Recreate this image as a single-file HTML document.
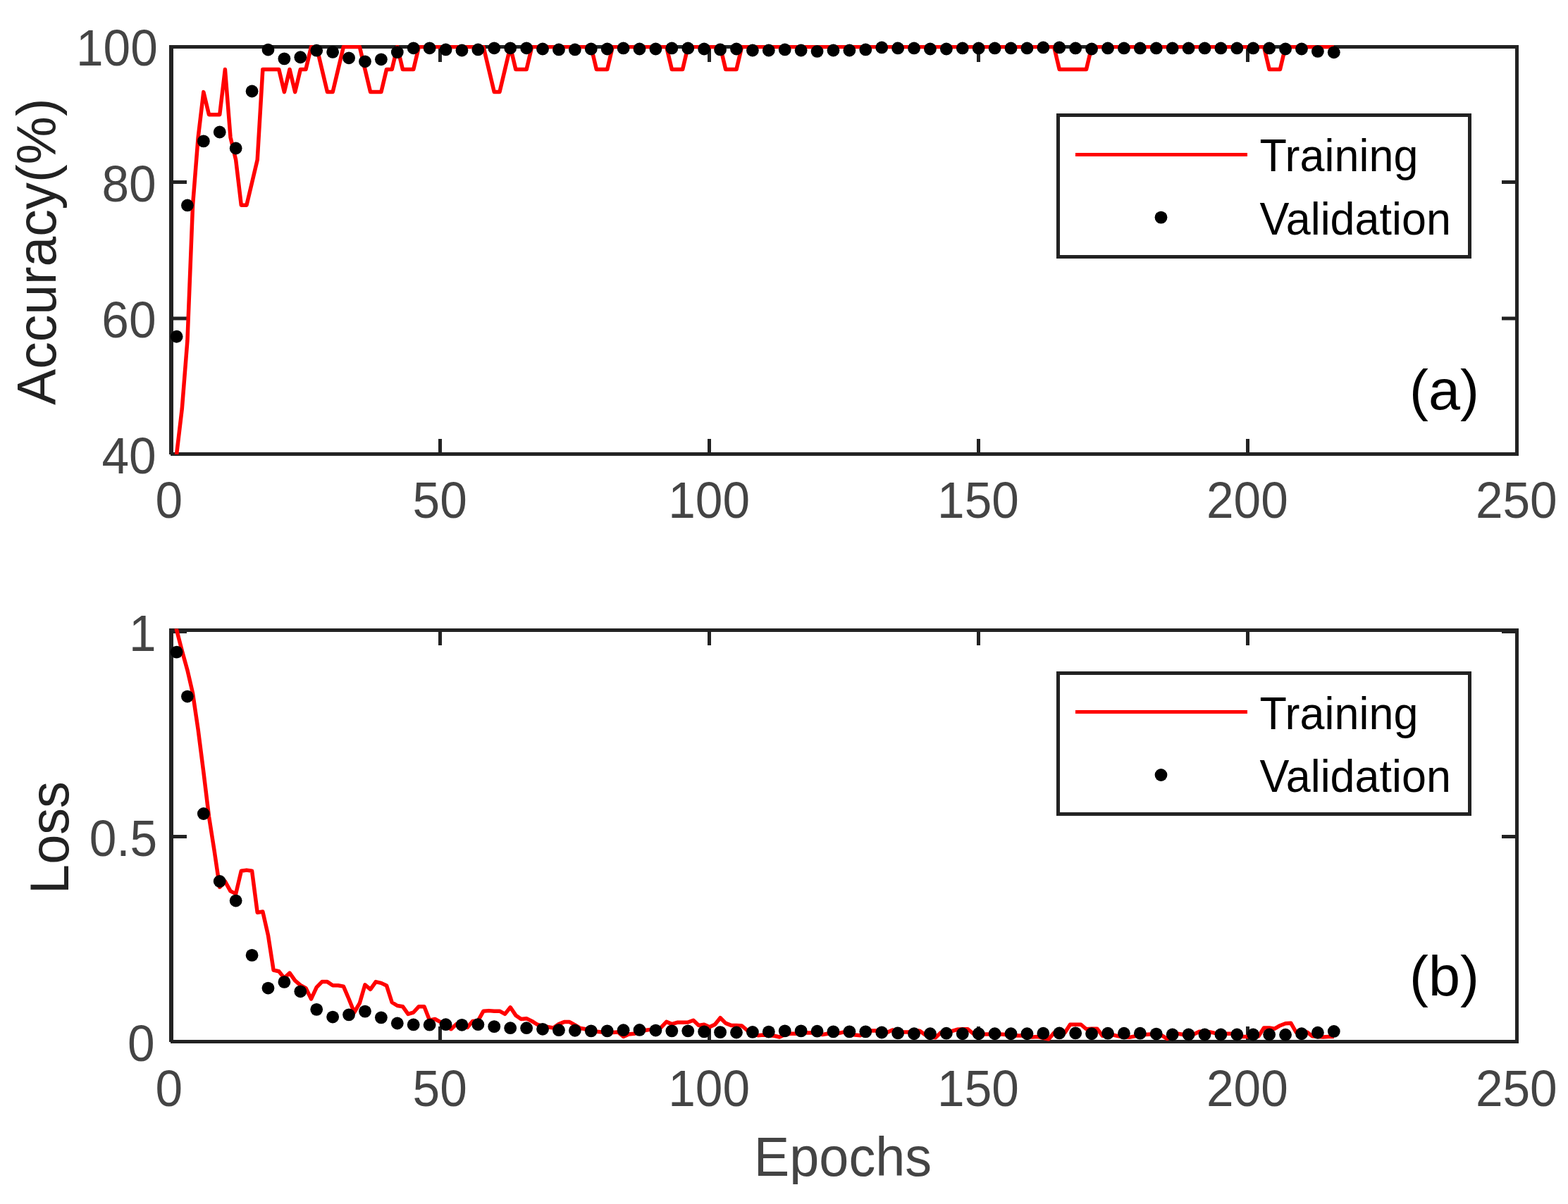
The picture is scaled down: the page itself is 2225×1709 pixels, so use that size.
<!DOCTYPE html>
<html lang="en">
<head>
<meta charset="utf-8">
<title>Training and validation accuracy / loss</title>
<style>
html,body{margin:0;padding:0;background:#fff;}
body{width:2225px;height:1709px;overflow:hidden;}
svg{display:block;}
</style>
</head>
<body>
<svg width="2225" height="1709" viewBox="0 0 2225 1709" role="img" aria-label="Training and validation accuracy and loss versus epochs" font-family="'Liberation Sans', sans-serif">
<rect width="2225" height="1709" fill="#fff"/>
<defs><clipPath id="ca"><rect x="240" y="64" width="1915" height="581"/></clipPath><clipPath id="cb"><rect x="240" y="892.6" width="1915" height="588.4"/></clipPath><clipPath id="cx"><rect x="1000" y="1590" width="400" height="91"/></clipPath></defs>
<g fill="#222222" shape-rendering="crispEdges"><rect x="622.4" y="622.9" width="5" height="21.5"/><rect x="622.4" y="66.4" width="5" height="21.5"/><rect x="1004.3" y="622.9" width="5" height="21.5"/><rect x="1004.3" y="66.4" width="5" height="21.5"/><rect x="1386.2" y="622.9" width="5" height="21.5"/><rect x="1386.2" y="66.4" width="5" height="21.5"/><rect x="1768.1" y="622.9" width="5" height="21.5"/><rect x="1768.1" y="66.4" width="5" height="21.5"/><rect x="243" y="449.5" width="22" height="5" shape-rendering="auto"/><rect x="2131" y="449.5" width="22" height="5" shape-rendering="auto"/><rect x="243" y="256" width="22" height="5" shape-rendering="auto"/><rect x="2131" y="256" width="22" height="5" shape-rendering="auto"/><rect x="240" y="64" width="1915" height="5"/><rect x="242" y="642" width="1913" height="5"/><rect x="240" y="64" width="6" height="581"/><rect x="2150" y="64" width="5" height="583"/></g>
<polyline clip-path="url(#ca)" points="250.28,647.4 250.64,644.4 258.28,580.18 265.91,483.84 273.55,291.18 281.19,194.84 288.83,130.62 296.47,162.73 304.1,162.73 311.74,162.73 319.38,98.51 327.02,194.84 334.66,226.96 342.29,291.18 349.93,291.18 357.57,259.07 365.21,226.96 372.85,98.51 380.48,98.51 388.12,98.51 395.76,98.51 403.4,130.62 411.04,98.51 418.67,130.62 426.31,98.51 433.95,98.51 441.59,66.4 449.23,66.4 456.86,98.51 464.5,130.62 472.14,130.62 479.78,98.51 487.42,66.4 495.05,66.4 502.69,66.4 510.33,66.4 517.97,98.51 525.61,130.62 533.24,130.62 540.88,130.62 548.52,98.51 556.16,98.51 563.8,66.4 571.43,98.51 579.07,98.51 586.71,98.51 594.35,66.4 601.99,66.4 609.62,66.4 617.26,66.4 624.9,66.4 632.54,66.4 640.18,66.4 647.81,66.4 655.45,66.4 663.09,66.4 670.73,66.4 678.37,66.4 686,66.4 693.64,98.51 701.28,130.62 708.92,130.62 716.56,98.51 724.19,66.4 731.83,98.51 739.47,98.51 747.11,98.51 754.75,66.4 762.38,66.4 770.02,66.4 777.66,66.4 785.3,66.4 792.94,66.4 800.57,66.4 808.21,66.4 815.85,66.4 823.49,66.4 831.13,66.4 838.76,66.4 846.4,98.51 854.04,98.51 861.68,98.51 869.32,66.4 876.95,66.4 884.59,66.4 892.23,66.4 899.87,66.4 907.51,66.4 915.14,66.4 922.78,66.4 930.42,66.4 938.06,66.4 945.7,66.4 953.33,98.51 960.97,98.51 968.61,98.51 976.25,66.4 983.89,66.4 991.52,66.4 999.16,66.4 1006.8,66.4 1014.44,66.4 1022.08,66.4 1029.71,98.51 1037.35,98.51 1044.99,98.51 1052.63,66.4 1060.27,66.4 1067.9,66.4 1075.54,66.4 1083.18,66.4 1090.82,66.4 1098.46,66.4 1106.09,66.4 1113.73,66.4 1121.37,66.4 1129.01,66.4 1136.65,66.4 1144.28,66.4 1151.92,66.4 1159.56,66.4 1167.2,66.4 1174.84,66.4 1182.47,66.4 1190.11,66.4 1197.75,66.4 1205.39,66.4 1213.03,66.4 1220.66,66.4 1228.3,66.4 1235.94,66.4 1243.58,66.4 1251.22,66.4 1258.85,66.4 1266.49,66.4 1274.13,66.4 1281.77,66.4 1289.41,66.4 1297.04,66.4 1304.68,66.4 1312.32,66.4 1319.96,66.4 1327.6,66.4 1335.23,66.4 1342.87,66.4 1350.51,66.4 1358.15,66.4 1365.79,66.4 1373.42,66.4 1381.06,66.4 1388.7,66.4 1396.34,66.4 1403.98,66.4 1411.61,66.4 1419.25,66.4 1426.89,66.4 1434.53,66.4 1442.17,66.4 1449.8,66.4 1457.44,66.4 1465.08,66.4 1472.72,66.4 1480.36,66.4 1487.99,66.4 1495.63,66.4 1503.27,98.51 1510.91,98.51 1518.55,98.51 1526.18,98.51 1533.82,98.51 1541.46,98.51 1549.1,66.4 1556.74,66.4 1564.37,66.4 1572.01,66.4 1579.65,66.4 1587.29,66.4 1594.93,66.4 1602.56,66.4 1610.2,66.4 1617.84,66.4 1625.48,66.4 1633.12,66.4 1640.75,66.4 1648.39,66.4 1656.03,66.4 1663.67,66.4 1671.31,66.4 1678.94,66.4 1686.58,66.4 1694.22,66.4 1701.86,66.4 1709.5,66.4 1717.13,66.4 1724.77,66.4 1732.41,66.4 1740.05,66.4 1747.69,66.4 1755.32,66.4 1762.96,66.4 1770.6,66.4 1778.24,66.4 1785.88,66.4 1793.51,66.4 1801.15,98.51 1808.79,98.51 1816.43,98.51 1824.07,66.4 1831.7,66.4 1839.34,66.4 1846.98,66.4 1854.62,66.4 1862.26,66.4 1869.89,66.4 1877.53,66.4 1885.17,66.4 1892.81,66.4" fill="none" stroke="#ff0000" stroke-width="5.5" stroke-linejoin="round" stroke-linecap="butt"/>
<g fill="#000"><circle cx="250.64" cy="477.74" r="8.9"/><circle cx="265.91" cy="291.43" r="8.9"/><circle cx="288.83" cy="200.4" r="8.9"/><circle cx="311.74" cy="187.49" r="8.9"/><circle cx="334.66" cy="210.51" r="8.9"/><circle cx="357.57" cy="129.5" r="8.9"/><circle cx="380.48" cy="70.54" r="8.9"/><circle cx="403.4" cy="83.35" r="8.9"/><circle cx="426.31" cy="81.24" r="8.9"/><circle cx="449.23" cy="71.7" r="8.9"/><circle cx="472.14" cy="73.91" r="8.9"/><circle cx="495.05" cy="82.3" r="8.9"/><circle cx="517.97" cy="87.3" r="8.9"/><circle cx="540.88" cy="84.32" r="8.9"/><circle cx="563.8" cy="74.11" r="8.9"/><circle cx="586.71" cy="68.33" r="8.9"/><circle cx="609.62" cy="68.33" r="8.9"/><circle cx="632.54" cy="70.45" r="8.9"/><circle cx="655.45" cy="71.51" r="8.9"/><circle cx="678.37" cy="70.45" r="8.9"/><circle cx="701.28" cy="68.33" r="8.9"/><circle cx="724.19" cy="68.33" r="8.9"/><circle cx="747.11" cy="68.33" r="8.9"/><circle cx="770.02" cy="69.48" r="8.9"/><circle cx="792.94" cy="70.45" r="8.9"/><circle cx="815.85" cy="70.45" r="8.9"/><circle cx="838.76" cy="69.48" r="8.9"/><circle cx="861.68" cy="69.48" r="8.9"/><circle cx="884.59" cy="68.42" r="8.9"/><circle cx="907.51" cy="69.48" r="8.9"/><circle cx="930.42" cy="69.48" r="8.9"/><circle cx="953.33" cy="68.42" r="8.9"/><circle cx="976.25" cy="68.42" r="8.9"/><circle cx="999.16" cy="69.48" r="8.9"/><circle cx="1022.08" cy="70.45" r="8.9"/><circle cx="1044.99" cy="69.48" r="8.9"/><circle cx="1067.9" cy="71.51" r="8.9"/><circle cx="1090.82" cy="71.51" r="8.9"/><circle cx="1113.73" cy="70.45" r="8.9"/><circle cx="1136.65" cy="71.51" r="8.9"/><circle cx="1159.56" cy="72.95" r="8.9"/><circle cx="1182.47" cy="71.51" r="8.9"/><circle cx="1205.39" cy="71.51" r="8.9"/><circle cx="1228.3" cy="70.45" r="8.9"/><circle cx="1251.22" cy="67.46" r="8.9"/><circle cx="1274.13" cy="68.42" r="8.9"/><circle cx="1297.04" cy="68.42" r="8.9"/><circle cx="1319.96" cy="69.48" r="8.9"/><circle cx="1342.87" cy="69.48" r="8.9"/><circle cx="1365.79" cy="68.42" r="8.9"/><circle cx="1388.7" cy="68.42" r="8.9"/><circle cx="1411.61" cy="68.42" r="8.9"/><circle cx="1434.53" cy="68.42" r="8.9"/><circle cx="1457.44" cy="68.42" r="8.9"/><circle cx="1480.36" cy="67.46" r="8.9"/><circle cx="1503.27" cy="67.46" r="8.9"/><circle cx="1526.18" cy="68.42" r="8.9"/><circle cx="1549.1" cy="69.48" r="8.9"/><circle cx="1572.01" cy="68.42" r="8.9"/><circle cx="1594.93" cy="68.42" r="8.9"/><circle cx="1617.84" cy="68.42" r="8.9"/><circle cx="1640.75" cy="68.42" r="8.9"/><circle cx="1663.67" cy="68.42" r="8.9"/><circle cx="1686.58" cy="68.42" r="8.9"/><circle cx="1709.5" cy="68.42" r="8.9"/><circle cx="1732.41" cy="68.42" r="8.9"/><circle cx="1755.32" cy="68.42" r="8.9"/><circle cx="1778.24" cy="68.42" r="8.9"/><circle cx="1801.15" cy="68.42" r="8.9"/><circle cx="1824.07" cy="69.48" r="8.9"/><circle cx="1846.98" cy="69.48" r="8.9"/><circle cx="1869.89" cy="72.95" r="8.9"/><circle cx="1892.81" cy="74.3" r="8.9"/></g>
<g fill="#222222" shape-rendering="crispEdges"><rect x="622.4" y="1456.8" width="5" height="21.5"/><rect x="622.4" y="894.3" width="5" height="21.5"/><rect x="1004.3" y="1456.8" width="5" height="21.5"/><rect x="1004.3" y="894.3" width="5" height="21.5"/><rect x="1386.2" y="1456.8" width="5" height="21.5"/><rect x="1386.2" y="894.3" width="5" height="21.5"/><rect x="1768.1" y="1456.8" width="5" height="21.5"/><rect x="1768.1" y="894.3" width="5" height="21.5"/><rect x="243" y="1185" width="22" height="5" shape-rendering="auto"/><rect x="2131" y="1185" width="22" height="5" shape-rendering="auto"/><rect x="243" y="894" width="22" height="5" shape-rendering="auto"/><rect x="2131" y="894" width="22" height="5" shape-rendering="auto"/><rect x="240" y="892" width="1915" height="5"/><rect x="242" y="1476" width="1913" height="5"/><rect x="240" y="892" width="6" height="587"/><rect x="2150" y="892" width="5" height="589"/></g>
<polyline clip-path="url(#cb)" points="249.96,891.3 250.64,894.3 258.28,923.79 265.91,951.24 273.55,984.24 281.19,1036.21 288.83,1095.78 296.47,1158.85 304.1,1207.32 311.74,1259.3 319.38,1251.12 327.02,1264.85 334.66,1268.64 342.29,1236.29 349.93,1235.12 357.57,1236.29 365.21,1295.22 372.85,1294.05 380.48,1327.63 388.12,1376.98 395.76,1378.73 403.4,1388.36 411.04,1381.12 418.67,1391.87 426.31,1398.35 433.95,1402.56 441.59,1417.97 449.23,1401.33 456.86,1393.62 464.5,1393.62 472.14,1398.7 479.78,1398.7 487.42,1400.16 495.05,1417.97 502.69,1437.01 510.33,1423.93 517.97,1397.77 525.61,1404.31 533.24,1393.62 540.88,1395.37 548.52,1398.93 556.16,1422.76 563.8,1427.49 571.43,1428.66 579.07,1439.41 586.71,1437.01 594.35,1428.66 601.99,1428.66 609.62,1448.28 617.26,1446.47 624.9,1450.62 632.54,1456.58 640.18,1460.78 647.81,1453.6 655.45,1457.16 663.09,1458.39 670.73,1449.45 678.37,1448.87 686,1435.2 693.64,1434.62 701.28,1435.2 708.92,1435.2 716.56,1439.35 724.19,1429.83 731.83,1441.16 739.47,1446.47 747.11,1445.65 754.75,1449.45 762.38,1454.24 770.02,1456.58 777.66,1457.8 785.3,1458.97 792.94,1453.6 800.57,1450.62 808.21,1450.62 815.85,1454.82 823.49,1459.55 831.13,1460.78 838.76,1462.53 846.4,1464.34 854.04,1464.93 861.68,1464.93 869.32,1465.51 876.95,1464.93 884.59,1471.47 892.23,1467.9 899.87,1467.26 907.51,1464.87 915.14,1462.53 922.78,1461.36 930.42,1461.36 938.06,1458.39 945.7,1450.38 953.33,1453.6 960.97,1451.26 968.61,1451.26 976.25,1451.03 983.89,1448.28 991.52,1455.41 999.16,1454.24 1006.8,1457.8 1014.44,1454.24 1022.08,1444.72 1029.71,1452.43 1037.35,1455.41 1044.99,1455.41 1052.63,1455.99 1060.27,1462.53 1067.9,1467.2 1075.54,1469.66 1083.18,1469.07 1090.82,1469.66 1098.46,1470.24 1106.09,1472.05 1113.73,1468.49 1121.37,1467.26 1129.01,1467.26 1136.65,1466.09 1144.28,1466.09 1151.92,1466.09 1159.56,1467.79 1167.2,1468.49 1174.84,1467.26 1182.47,1467.26 1190.11,1466.62 1197.75,1464.87 1205.39,1467.26 1213.03,1469.07 1220.66,1469.66 1228.3,1466.09 1235.94,1463.12 1243.58,1463.12 1251.22,1464.93 1258.85,1465.51 1266.49,1461.95 1274.13,1463.7 1281.77,1464.93 1289.41,1464.93 1297.04,1462.53 1304.68,1463.12 1312.32,1468.49 1319.96,1472.05 1327.6,1472.64 1335.23,1465.51 1342.87,1464.93 1350.51,1463.7 1358.15,1461.36 1365.79,1460.78 1373.42,1460.78 1381.06,1467.26 1388.7,1467.26 1396.34,1467.9 1403.98,1467.9 1411.61,1467.9 1419.25,1467.9 1426.89,1468.49 1434.53,1469.66 1442.17,1469.89 1449.8,1469.89 1457.44,1472.05 1465.08,1472.05 1472.72,1471.47 1480.36,1473.22 1487.99,1475.03 1495.63,1466.09 1503.27,1466.09 1510.91,1466.09 1518.55,1454.24 1526.18,1454.24 1533.82,1454.24 1541.46,1460.78 1549.1,1460.2 1556.74,1460.2 1564.37,1470.24 1572.01,1469.66 1579.65,1469.07 1587.29,1470.88 1594.93,1472.05 1602.56,1472.34 1610.2,1470.88 1617.84,1469.66 1625.48,1468.49 1633.12,1467.9 1640.75,1468.96 1648.39,1469.66 1656.03,1474.45 1663.67,1471.29 1671.31,1467.26 1678.94,1468.49 1686.58,1468.37 1694.22,1467.9 1701.86,1464.34 1709.5,1464.58 1717.13,1464.93 1724.77,1466.68 1732.41,1467.2 1740.05,1467.26 1747.69,1467.26 1755.32,1469.54 1762.96,1471.47 1770.6,1471.47 1778.24,1471.29 1785.88,1470.88 1793.51,1458.97 1801.15,1458.97 1808.79,1460.2 1816.43,1455.7 1824.07,1452.72 1831.7,1452.14 1839.34,1465.51 1846.98,1464.93 1854.62,1464.93 1862.26,1470.88 1869.89,1471.47 1877.53,1472.05 1885.17,1471.47 1892.81,1471.47" fill="none" stroke="#ff0000" stroke-width="5.5" stroke-linejoin="round" stroke-linecap="butt"/>
<g fill="#000"><circle cx="250.64" cy="925.6" r="8.9"/><circle cx="265.91" cy="988.56" r="8.9"/><circle cx="288.83" cy="1155" r="8.9"/><circle cx="311.74" cy="1251.01" r="8.9"/><circle cx="334.66" cy="1278.57" r="8.9"/><circle cx="357.57" cy="1355.89" r="8.9"/><circle cx="380.48" cy="1402.56" r="8.9"/><circle cx="403.4" cy="1393.91" r="8.9"/><circle cx="426.31" cy="1407.29" r="8.9"/><circle cx="449.23" cy="1432.86" r="8.9"/><circle cx="472.14" cy="1443.55" r="8.9"/><circle cx="495.05" cy="1440.34" r="8.9"/><circle cx="517.97" cy="1435.61" r="8.9"/><circle cx="540.88" cy="1444.37" r="8.9"/><circle cx="563.8" cy="1452.49" r="8.9"/><circle cx="586.71" cy="1454.47" r="8.9"/><circle cx="609.62" cy="1454.71" r="8.9"/><circle cx="632.54" cy="1454.18" r="8.9"/><circle cx="655.45" cy="1454.82" r="8.9"/><circle cx="678.37" cy="1454.18" r="8.9"/><circle cx="701.28" cy="1457.16" r="8.9"/><circle cx="724.19" cy="1459.2" r="8.9"/><circle cx="747.11" cy="1459.2" r="8.9"/><circle cx="770.02" cy="1460.78" r="8.9"/><circle cx="792.94" cy="1462.18" r="8.9"/><circle cx="815.85" cy="1462.77" r="8.9"/><circle cx="838.76" cy="1463.35" r="8.9"/><circle cx="861.68" cy="1463.35" r="8.9"/><circle cx="884.59" cy="1462.18" r="8.9"/><circle cx="907.51" cy="1461.95" r="8.9"/><circle cx="930.42" cy="1462.53" r="8.9"/><circle cx="953.33" cy="1463.35" r="8.9"/><circle cx="976.25" cy="1463.35" r="8.9"/><circle cx="999.16" cy="1464.34" r="8.9"/><circle cx="1022.08" cy="1465.16" r="8.9"/><circle cx="1044.99" cy="1465.51" r="8.9"/><circle cx="1067.9" cy="1464.93" r="8.9"/><circle cx="1090.82" cy="1464.58" r="8.9"/><circle cx="1113.73" cy="1463.35" r="8.9"/><circle cx="1136.65" cy="1463.35" r="8.9"/><circle cx="1159.56" cy="1463.7" r="8.9"/><circle cx="1182.47" cy="1464.34" r="8.9"/><circle cx="1205.39" cy="1464.34" r="8.9"/><circle cx="1228.3" cy="1464.34" r="8.9"/><circle cx="1251.22" cy="1465.51" r="8.9"/><circle cx="1274.13" cy="1466.44" r="8.9"/><circle cx="1297.04" cy="1467.26" r="8.9"/><circle cx="1319.96" cy="1467.26" r="8.9"/><circle cx="1342.87" cy="1466.68" r="8.9"/><circle cx="1365.79" cy="1467.26" r="8.9"/><circle cx="1388.7" cy="1467.26" r="8.9"/><circle cx="1411.61" cy="1467.26" r="8.9"/><circle cx="1434.53" cy="1467.26" r="8.9"/><circle cx="1457.44" cy="1467.26" r="8.9"/><circle cx="1480.36" cy="1466.68" r="8.9"/><circle cx="1503.27" cy="1466.44" r="8.9"/><circle cx="1526.18" cy="1466.44" r="8.9"/><circle cx="1549.1" cy="1467.26" r="8.9"/><circle cx="1572.01" cy="1466.68" r="8.9"/><circle cx="1594.93" cy="1466.68" r="8.9"/><circle cx="1617.84" cy="1466.68" r="8.9"/><circle cx="1640.75" cy="1467.55" r="8.9"/><circle cx="1663.67" cy="1468.49" r="8.9"/><circle cx="1686.58" cy="1468.49" r="8.9"/><circle cx="1709.5" cy="1468.49" r="8.9"/><circle cx="1732.41" cy="1468.49" r="8.9"/><circle cx="1755.32" cy="1468.49" r="8.9"/><circle cx="1778.24" cy="1468.49" r="8.9"/><circle cx="1801.15" cy="1468.49" r="8.9"/><circle cx="1824.07" cy="1468.72" r="8.9"/><circle cx="1846.98" cy="1467.26" r="8.9"/><circle cx="1869.89" cy="1465.74" r="8.9"/><circle cx="1892.81" cy="1463.93" r="8.9"/></g>
<text transform="translate(223.8,93.2) scale(0.96,1)" font-size="72.3" fill="#444444" text-anchor="end" >100</text>
<text transform="translate(221.7,286.2) scale(0.96,1)" font-size="72.3" fill="#444444" text-anchor="end" >80</text>
<text transform="translate(221.5,479.1) scale(0.96,1)" font-size="72.3" fill="#444444" text-anchor="end" >60</text>
<text transform="translate(221.7,672.2) scale(0.96,1)" font-size="72.3" fill="#444444" text-anchor="end" >40</text>
<text transform="translate(221.7,924) scale(0.96,1)" font-size="72.3" fill="#444444" text-anchor="end" >1</text>
<text transform="translate(223.2,1215.1) scale(0.96,1)" font-size="72.3" fill="#444444" text-anchor="end" >0.5</text>
<text transform="translate(219.6,1506) scale(0.96,1)" font-size="72.3" fill="#444444" text-anchor="end" >0</text>
<text transform="translate(239.9,735.2) scale(0.96,1)" font-size="72.3" fill="#444444" text-anchor="middle" >0</text>
<text transform="translate(239.9,1570.2) scale(0.96,1)" font-size="72.3" fill="#444444" text-anchor="middle" >0</text>
<text transform="translate(624.2,735.2) scale(0.96,1)" font-size="72.3" fill="#444444" text-anchor="middle" >50</text>
<text transform="translate(624.2,1570.2) scale(0.96,1)" font-size="72.3" fill="#444444" text-anchor="middle" >50</text>
<text transform="translate(1006.1,735.2) scale(0.96,1)" font-size="72.3" fill="#444444" text-anchor="middle" >100</text>
<text transform="translate(1006.1,1570.2) scale(0.96,1)" font-size="72.3" fill="#444444" text-anchor="middle" >100</text>
<text transform="translate(1388,735.2) scale(0.96,1)" font-size="72.3" fill="#444444" text-anchor="middle" >150</text>
<text transform="translate(1388,1570.2) scale(0.96,1)" font-size="72.3" fill="#444444" text-anchor="middle" >150</text>
<text transform="translate(1769.9,735.2) scale(0.96,1)" font-size="72.3" fill="#444444" text-anchor="middle" >200</text>
<text transform="translate(1769.9,1570.2) scale(0.96,1)" font-size="72.3" fill="#444444" text-anchor="middle" >200</text>
<text transform="translate(2151.8,735.2) scale(0.96,1)" font-size="72.3" fill="#444444" text-anchor="middle" >250</text>
<text transform="translate(2151.8,1570.2) scale(0.96,1)" font-size="72.3" fill="#444444" text-anchor="middle" >250</text>
<text transform="translate(79.3,357.2) rotate(-90) scale(0.998,1)" font-size="77" fill="#222222" text-anchor="middle">Accuracy(%)</text>
<text transform="translate(97.4,1189) rotate(-90) scale(0.983,1)" font-size="77" fill="#222222" text-anchor="middle">Loss</text>
<g clip-path="url(#cx)"><text transform="translate(1196,1668.6) scale(0.983,1)" font-size="77" fill="#444444" text-anchor="middle" >Epochs</text></g>
<g fill="#222222" shape-rendering="crispEdges"><rect x="1499" y="161" width="589" height="206"/><rect x="1504" y="166" width="579" height="196" fill="#fff"/></g><rect x="1526" y="217" width="244" height="5" fill="#ff0000" shape-rendering="crispEdges"/><circle cx="1647.5" cy="308.6" r="8.9" fill="#000"/><text transform="translate(1787.5,243.2) scale(0.983,1)" font-size="64" fill="#000" text-anchor="start" >Training</text><text transform="translate(1787.4,333.4) scale(0.983,1)" font-size="64" fill="#000" text-anchor="start" >Validation</text>
<g fill="#222222" shape-rendering="crispEdges"><rect x="1499" y="953" width="589" height="205"/><rect x="1504" y="958" width="579" height="195" fill="#fff"/></g><rect x="1526" y="1008" width="244" height="5" fill="#ff0000" shape-rendering="crispEdges"/><circle cx="1647.5" cy="1100" r="8.9" fill="#000"/><text transform="translate(1787.5,1034.6) scale(0.983,1)" font-size="64" fill="#000" text-anchor="start" >Training</text><text transform="translate(1787.4,1124) scale(0.983,1)" font-size="64" fill="#000" text-anchor="start" >Validation</text>
<text transform="translate(2049.5,581.4) scale(1.025,1)" font-size="79" fill="#000" text-anchor="middle" >(a)</text>
<text transform="translate(2049.5,1413.4) scale(1.025,1)" font-size="79" fill="#000" text-anchor="middle" >(b)</text>
</svg>
</body>
</html>
